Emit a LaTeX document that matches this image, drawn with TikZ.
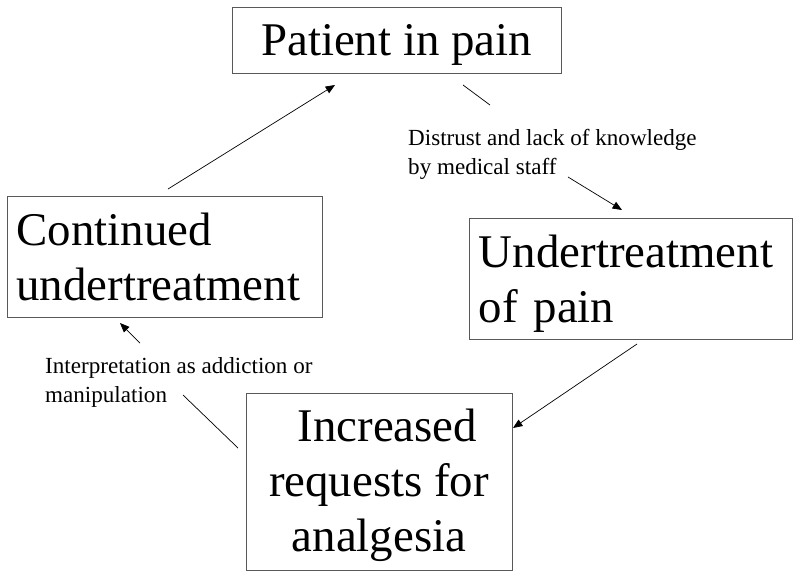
\documentclass[tikz,border=0pt]{standalone}
\usepackage{fontspec}
\setmainfont{Liberation Serif}
\usetikzlibrary{arrows.meta}

\begin{document}
\begin{tikzpicture}[x=0.03cm, y=-0.03cm,
  box/.style={draw=black!65, line width=0.8pt, inner ysep=0pt,
    font=\fontsize{40}{46.8}\selectfont},
  lbl/.style={anchor=north west, inner sep=0pt, align=left,
    font=\fontsize{19.7}{24.6}\selectfont},
  arr/.style={-{Triangle[length=8pt, width=6.5pt]}, line width=0.6pt},
  seg/.style={line width=0.6pt}]
\useasboundingbox (0,0) rectangle (800,579);

% Top
\node[box, minimum width=9.87cm, minimum height=1.98cm, text depth=0pt] (pain) at (396.5,40) {Patient in pain};

% Right
\node[box, minimum height=3.63cm, inner xsep=0.3cm, text width=9.09cm, align=left] (under) at (630.5,279) {\rule{0pt}{35.5pt}Undertreatment\\of pain};

% Bottom
\node[box, minimum width=7.98cm, minimum height=5.31cm, align=center] (requests) at (379,481.5) {\rule{0pt}{34pt}\hspace*{0.5cm}Increased\\requests for\\analgesia};

% Left
\node[box, minimum height=3.63cm, inner xsep=0.27cm, text width=8.91cm, align=left] (cont) at (165,257) {Continued\\undertreatment};

% Labels
\node[lbl] (distrust) at (408,129) {Distrust and lack of knowledge\\by medical staff};
\node[lbl] (interp) at (45,357) {Interpretation as addiction or\\manipulation};

% Connector ends
\coordinate (c1) at (168,189); \coordinate (c2) at (335,85);
\coordinate (d1) at (463,85);  \coordinate (d2) at (490,105);
\coordinate (d3) at (568,177); \coordinate (d4) at (622,210);
\coordinate (u1) at (637,344); \coordinate (u2) at (513,428);
\coordinate (i1) at (238,448); \coordinate (i2) at (183,395);
\coordinate (i3) at (140,343); \coordinate (i4) at (120,323);

% Arrows
\draw[arr] (c1) -- (c2);
\draw[seg] (d1) -- (d2);
\draw[arr] (d3) -- (d4);
\draw[arr] (u1) -- (u2);
\draw[seg] (i1) -- (i2);
\draw[arr] (i3) -- (i4);
\end{tikzpicture}
\end{document}
